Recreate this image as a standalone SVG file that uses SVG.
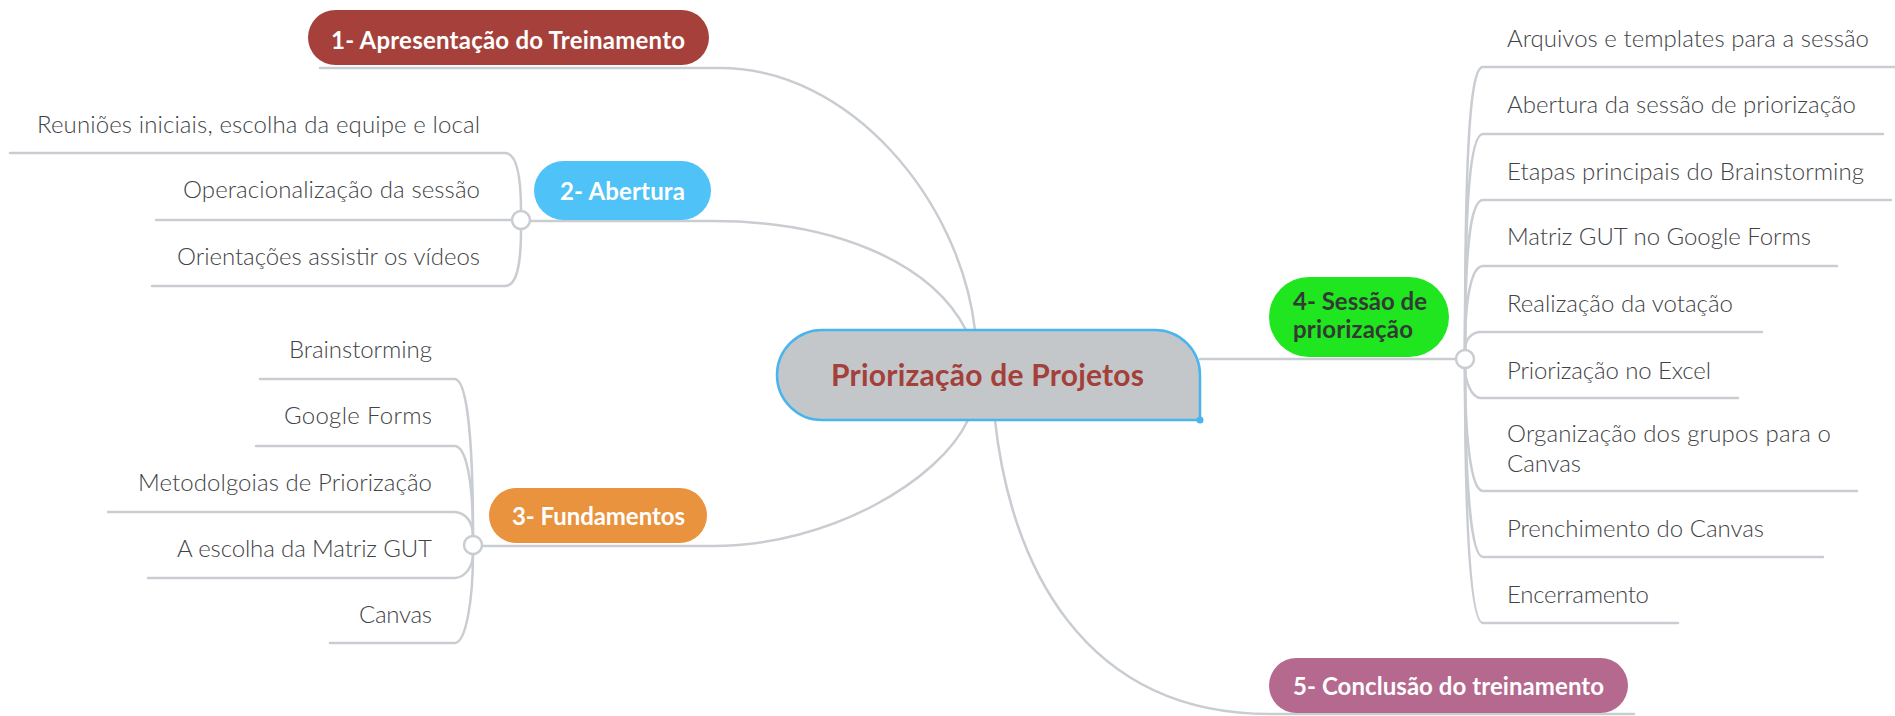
<svg xmlns="http://www.w3.org/2000/svg" width="1895" height="716" viewBox="0 0 1895 716">
<style>
.ln{fill:none;stroke:#c9cdd1;stroke-width:2.5;stroke-linecap:round}
.dot{fill:#ffffff;stroke:#c9cdd1;stroke-width:2.5}
.sub{font-family:"Lato","Open Sans",sans-serif;font-weight:300;font-size:24px;fill:#3f4347}
.lbl{font-family:"Lato","Open Sans",sans-serif;font-weight:700;font-size:24px;fill:#ffffff}
.ctr{font-family:"Lato","Open Sans",sans-serif;font-weight:700;font-size:30px;fill:#a3403a}
</style>
<rect width="1895" height="716" fill="#ffffff"/>
<g id="connectors">
  <path class="ln" d="M 320 68 H 720 C 850 68, 960 200, 975 330"/>
  <path class="ln" d="M 521 221 H 713 C 830 221, 930 260, 966 330"/>
  <path class="ln" d="M 473 546 H 713 C 830 546, 940 480, 968 420"/>
  <path class="ln" d="M 1200 359 H 1465"/>
  <path class="ln" d="M 995 420 C 1010 560, 1080 714, 1270 714 H 1634"/>
  <path class="ln" d="M 10 153 H 505 C 516 153, 521 172, 521 211"/>
  <path class="ln" d="M 156 220 H 512"/>
  <path class="ln" d="M 152 286 H 505 C 516 286, 521 268, 521 229"/>
  <path class="ln" d="M 260 379 H 455 C 466 380, 473 430, 473 536"/>
  <path class="ln" d="M 256 446 H 455 C 466 447, 473 480, 473 536"/>
  <path class="ln" d="M 108 512 H 455 C 466 513, 473 522, 473 536"/>
  <path class="ln" d="M 148 578 H 455 C 466 577, 473 566, 473 554"/>
  <path class="ln" d="M 330 643 H 455 C 466 642, 473 600, 473 554"/>
  <path class="ln" d="M 1895 67 H 1483 C 1470 67, 1465 150, 1465 350"/>
  <path class="ln" d="M 1883 134 H 1483 C 1470 134, 1465 200, 1465 350"/>
  <path class="ln" d="M 1891 200 H 1483 C 1470 200, 1465 250, 1465 350"/>
  <path class="ln" d="M 1837 266 H 1483 C 1471 266, 1465 300, 1465 350"/>
  <path class="ln" d="M 1762 332 H 1481 C 1471 332, 1465 340, 1465 350"/>
  <path class="ln" d="M 1738 398 H 1481 C 1471 398, 1465 380, 1465 368"/>
  <path class="ln" d="M 1857 491 H 1483 C 1470 491, 1465 430, 1465 368"/>
  <path class="ln" d="M 1823 557 H 1483 C 1470 557, 1465 470, 1465 368"/>
  <path class="ln" d="M 1678 623 H 1483 C 1470 623, 1465 520, 1465 368"/>
  <circle class="dot" cx="521" cy="220" r="9"/>
  <circle class="dot" cx="473" cy="545" r="9"/>
  <circle class="dot" cx="1465" cy="359" r="9"/>
</g>
<g id="center">
  <path d="M 822 330 H 1155 A 45 45 0 0 1 1200 375 V 420 H 822 A 45 45 0 0 1 822 330 Z" fill="#c4c7ca" stroke="#4ab4ec" stroke-width="2.5"/>
  <circle cx="1200" cy="420" r="3.5" fill="#4ab4ec"/>
  <text class="ctr" x="831" y="386" textLength="313">Priorização de Projetos</text>
</g>
<g id="node1">
  <rect x="308" y="10" width="401" height="55" rx="27.5" fill="#a5413a"/>
  <text class="lbl" x="331" y="49" textLength="354">1- Apresentação do Treinamento</text>
</g>
<g id="node2">
  <rect x="534" y="161" width="177" height="59" rx="29.5" fill="#4fc3f7"/>
  <text class="lbl" x="560" y="200" textLength="125">2- Abertura</text>
  <text class="sub" x="480" y="133" text-anchor="end" textLength="443">Reuniões iniciais, escolha da equipe e local</text>
  <text class="sub" x="480" y="198" text-anchor="end" textLength="297">Operacionalização da sessão</text>
  <text class="sub" x="480" y="265" text-anchor="end" textLength="303">Orientações assistir os vídeos</text>
</g>
<g id="node3">
  <rect x="489" y="488" width="218" height="55" rx="27.5" fill="#e9933e"/>
  <text class="lbl" x="512" y="525" textLength="173">3- Fundamentos</text>
  <text class="sub" x="432" y="358" text-anchor="end" textLength="143">Brainstorming</text>
  <text class="sub" x="432" y="424" text-anchor="end" textLength="148">Google Forms</text>
  <text class="sub" x="432" y="491" text-anchor="end" textLength="294">Metodolgoias de Priorização</text>
  <text class="sub" x="432" y="557" text-anchor="end" textLength="255">A escolha da Matriz GUT</text>
  <text class="sub" x="432" y="623" text-anchor="end" textLength="73">Canvas</text>
</g>
<g id="node4">
  <rect x="1269" y="277" width="180" height="80" rx="40" fill="#1fe61f"/>
  <text class="lbl" x="1293" y="310" textLength="134" style="fill:#333a33">4- Sessão de</text>
  <text class="lbl" x="1293" y="338" textLength="120" style="fill:#333a33">priorização</text>
  <text class="sub" x="1507" y="47" textLength="362">Arquivos e templates para a sessão</text>
  <text class="sub" x="1507" y="113" textLength="349">Abertura da sessão de priorização</text>
  <text class="sub" x="1507" y="180" textLength="357">Etapas principais do Brainstorming</text>
  <text class="sub" x="1507" y="245" textLength="304">Matriz GUT no Google Forms</text>
  <text class="sub" x="1507" y="312" textLength="226">Realização da votação</text>
  <text class="sub" x="1507" y="379" textLength="204">Priorização no Excel</text>
  <text class="sub" x="1507" y="442" textLength="324">Organização dos grupos para o</text>
  <text class="sub" x="1507" y="472" textLength="74">Canvas</text>
  <text class="sub" x="1507" y="537" textLength="257">Prenchimento do Canvas</text>
  <text class="sub" x="1507" y="603" textLength="142">Encerramento</text>
</g>
<g id="node5">
  <rect x="1269" y="658" width="359" height="55" rx="27.5" fill="#b5698e"/>
  <text class="lbl" x="1293" y="695" textLength="311">5- Conclusão do treinamento</text>
</g>
</svg>
